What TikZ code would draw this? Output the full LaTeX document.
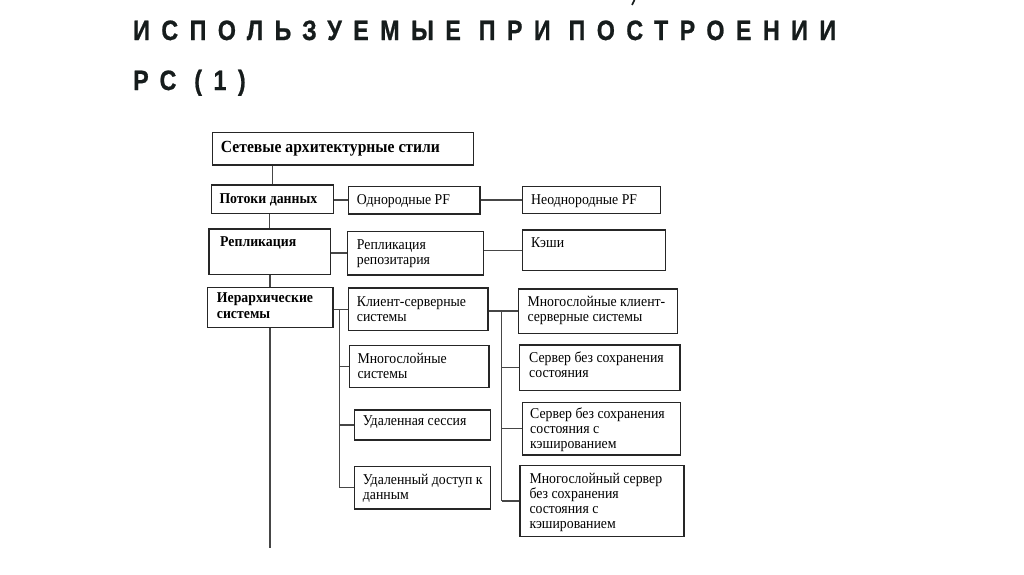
\documentclass[tikz,border=0pt]{standalone}
\usepackage{fontspec}
\setmainfont{Liberation Serif}
\newfontfamily\titlefont[LetterSpace=41,FakeStretch=0.83,FakeBold=0.8]{Liberation Sans}
\newfontfamily\boxfont[FakeStretch=0.92]{Liberation Serif}
\newcommand\mlines[1]{\begin{tabular}[t]{@{}l@{}}#1\end{tabular}}
\definecolor{titlecol}{RGB}{22,28,28}
\definecolor{linecol}{RGB}{70,70,70}
\tikzset{
  box/.style={draw=black!85, line width=1.2pt, inner sep=0pt, anchor=north west},
  txt/.style={inner sep=0pt, anchor=base west, font=\boxfont\fontsize{15}{15}\selectfont},
  btxt/.style={txt, font=\boxfont\bfseries\fontsize{15}{15.5}\selectfont},
  conn/.style={draw=linecol, line width=1.4pt},
  ttl/.style={inner sep=0pt, anchor=base west, text=titlecol, font=\titlefont\bfseries\fontsize{28}{30}\selectfont}
}
\begin{document}
\begin{tikzpicture}[x=1pt,y=-1pt]
\useasboundingbox[fill=white] (0,0) rectangle (1024,574);
% title
\draw[titlecol, line width=1.6pt] (634.5,0) -- (632,5);
\node[ttl] (t1) at (133,40) {ИСПОЛЬЗУЕМЫЕ ПРИ ПОСТРОЕНИИ};
\node[ttl] (t2) at (133,90) {РС (1)};
% boxes
\node[box, minimum width=261, minimum height=32.6] (top) at (211.7,131.7) {};
\node[box, minimum width=121.7, minimum height=28.4] (pot) at (211,184.3) {};
\node[box, minimum width=131.6, minimum height=27.6] (odn) at (347.7,185.7) {};
\node[box, minimum width=138.3, minimum height=26.7] (neodn) at (521.7,186) {};
\node[box, minimum width=121.7, minimum height=45.7] (rep) at (208.3,228.3) {};
\node[box, minimum width=136, minimum height=43.6] (reprep) at (346.7,230.7) {};
\node[box, minimum width=143.3, minimum height=40.7] (kesh) at (521.7,229.3) {};
\node[box, minimum width=125.6, minimum height=40] (ier) at (206.7,286.7) {};
\node[box, minimum width=139.6, minimum height=42.7] (kss) at (347.7,287.3) {};
\node[box, minimum width=139.3, minimum height=41.7] (mnog) at (349,345) {};
\node[box, minimum width=136, minimum height=30] (udses) at (354,409.3) {};
\node[box, minimum width=136, minimum height=42.6] (uddost) at (354,465.7) {};
\node[box, minimum width=159, minimum height=44.4] (mkss) at (517.7,288.3) {};
\node[box, minimum width=160.3, minimum height=45.7] (sbss) at (519,344.3) {};
\node[box, minimum width=158.3, minimum height=52.6] (sbssk) at (521.7,401.7) {};
\node[box, minimum width=164, minimum height=71] (mss) at (519.3,465) {};
% texts
\node[btxt, font=\boxfont\bfseries\fontsize{17}{18}\selectfont] (topt) at (220.7,152) {Сетевые архитектурные стили};
\node[btxt] (pott) at (219.3,203) {Потоки данных};
\node[txt] (odnt) at (356.7,204.3) {Однородные PF};
\node[txt] (neodnt) at (531,204.3) {Неоднородные PF};
\node[btxt] (rept) at (220,246) {Репликация};
\node[txt] (reprept) at (356.7,249) {\mlines{Репликация\\репозитария}};
\node[txt] (kesht) at (531,247.3) {Кэши};
\node[btxt] (iert) at (216.7,302.7) {\mlines{Иерархические\\системы}};
\node[txt] (ksst) at (356.7,306.7) {\mlines{Клиент-серверные\\системы}};
\node[txt] (mnogt) at (357.3,363.3) {\mlines{Многослойные\\системы}};
\node[txt] (udsest) at (362.7,425.7) {Удаленная сессия};
\node[txt] (uddostt) at (362.7,484) {\mlines{Удаленный доступ к\\данным}};
\node[txt] (mksst) at (527.3,306) {\mlines{Многослойные клиент-\\серверные системы}};
\node[txt] (sbsst) at (529,362.7) {\mlines{Сервер без сохранения\\состояния}};
\node[txt] (sbsskt) at (530,418.3) {\mlines{Сервер без сохранения\\состояния с\\кэшированием}};
\node[txt] (msst) at (529.3,483.3) {\mlines{Многослойный сервер\\без сохранения\\состояния с\\кэшированием}};
% connectors
\coordinate (j1) at (339.3,0);
\coordinate (j2) at (501.7,0);
\coordinate (bottom) at (270,548.3);
\draw[conn] (top.south -| pot.north) -- (pot.north);
\draw[conn] (pot.south -| rep.north) -- (rep.north);
\draw[conn] (rep.south -| ier.north) -- (ier.north);
\draw[conn] (ier.south) -- (ier.south |- bottom);
\draw[conn] (odn.west -| pot.east) -- (odn.west);
\draw[conn] (neodn.west -| odn.east) -- (neodn.west);
\draw[conn] (reprep.west -| rep.east) -- (reprep.west);
\draw[conn] (kesh.west -| reprep.east) -- (kesh.west);
\draw[conn] (kss.west -| ier.east) -- (kss.west);
\draw[conn] (kss.west -| j1) -- (uddost.west -| j1);
\draw[conn] (mnog.west -| j1) -- (mnog.west);
\draw[conn] (udses.west -| j1) -- (udses.west);
\draw[conn] (uddost.west -| j1) -- (uddost.west);
\draw[conn] (mkss.west -| kss.east) -- (mkss.west);
\draw[conn] (mkss.west -| j2) -- (mss.west -| j2);
\draw[conn] (sbss.west -| j2) -- (sbss.west);
\draw[conn] (sbssk.west -| j2) -- (sbssk.west);
\draw[conn] (mss.west -| j2) -- (mss.west);
\end{tikzpicture}
\end{document}
